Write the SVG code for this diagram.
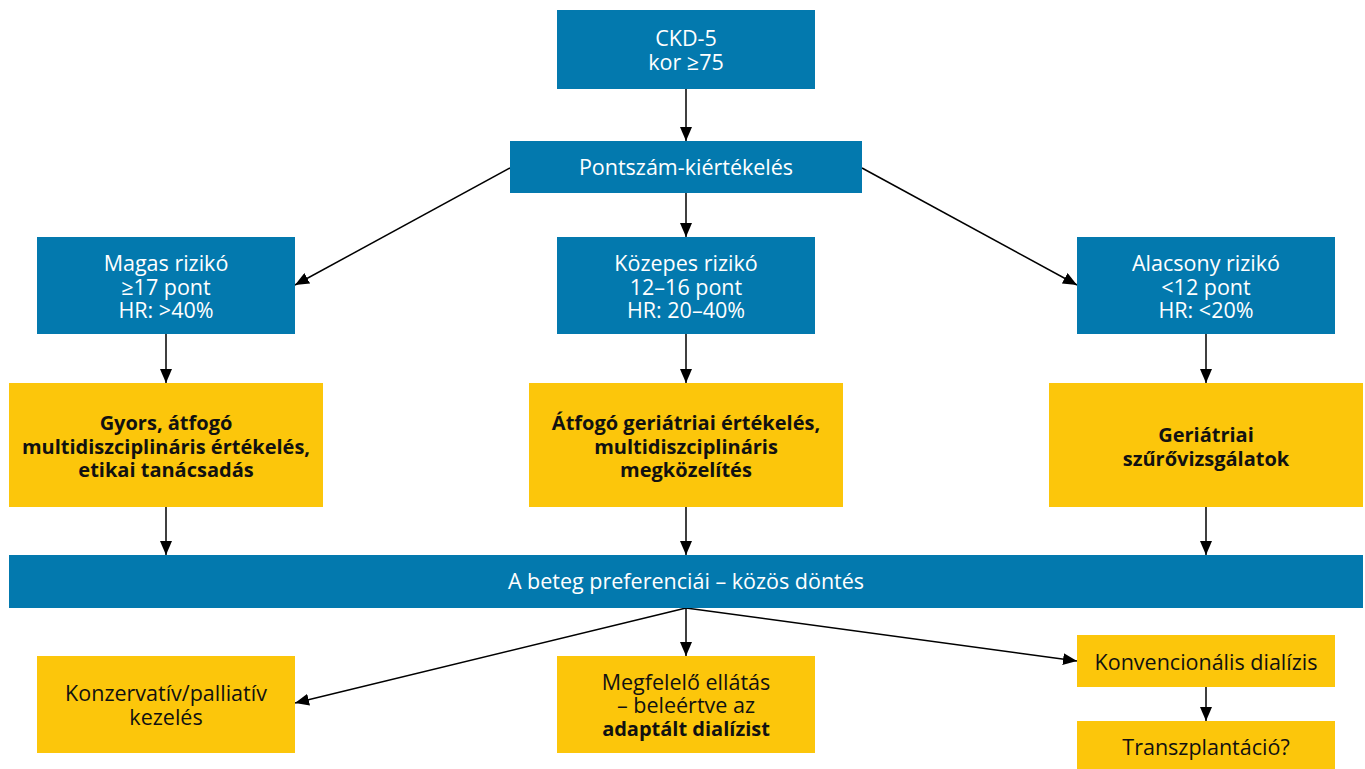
<svg xmlns="http://www.w3.org/2000/svg" width="1365" height="769" viewBox="0 0 1365 769">
<defs>
<style>
.b{fill:#0379AE}
.y{fill:#FCC60B}
text{font-family:"Open Sans","Noto Sans",sans-serif;font-size:21.5px;text-anchor:middle;dominant-baseline:central}
.w{fill:#ffffff}
.k{fill:#111111}
.bold{font-weight:bold;font-size:20px}
.c{stroke:#000;stroke-width:1.5;fill:none;marker-end:url(#ah)}
</style>
<marker id="ah" viewBox="0 0 14 12" refX="14" refY="6" markerWidth="14" markerHeight="12" markerUnits="userSpaceOnUse" orient="auto"><path d="M0,0 L14,6 L0,12 z" fill="#000"/></marker>
</defs>
<rect width="1365" height="769" fill="#fff"/>
<g id="connectors">
<line class="c" x1="686" y1="89" x2="686" y2="141"/>
<line class="c" x1="686" y1="193" x2="686" y2="237"/>
<line class="c" x1="510" y1="168" x2="295" y2="285"/>
<line class="c" x1="862" y1="168" x2="1077" y2="285"/>
<line class="c" x1="166" y1="334" x2="166" y2="383"/>
<line class="c" x1="686" y1="334" x2="686" y2="383"/>
<line class="c" x1="1206" y1="334" x2="1206" y2="383"/>
<line class="c" x1="166" y1="507" x2="166" y2="555"/>
<line class="c" x1="686" y1="507" x2="686" y2="555"/>
<line class="c" x1="1206" y1="507" x2="1206" y2="555"/>
<line class="c" x1="686" y1="608" x2="295" y2="703"/>
<line class="c" x1="686" y1="608" x2="686" y2="656"/>
<line class="c" x1="686" y1="608" x2="1077" y2="661"/>
<line class="c" x1="1206" y1="687" x2="1206" y2="721"/>
</g>
<g id="ckd"><rect class="b" x="557" y="10" width="258" height="79"/><text class="w" x="686" y="37">CKD-5</text><text class="w" x="686" y="61">kor ≥75</text></g>
<g id="pontszam"><rect class="b" x="510" y="141" width="352" height="52"/><text class="w" x="686" y="166">Pontszám-kiértékelés</text></g>
<g id="magas"><rect class="b" x="37" y="237" width="258" height="97"/><text class="w" x="166" y="262">Magas rizikó</text><text class="w" x="166" y="286">≥17 pont</text><text class="w" x="166" y="309">HR: &gt;40%</text></g>
<g id="kozepes"><rect class="b" x="557" y="237" width="258" height="97"/><text class="w" x="686" y="262">Közepes rizikó</text><text class="w" x="686" y="286">12–16 pont</text><text class="w" x="686" y="309">HR: 20–40%</text></g>
<g id="alacsony"><rect class="b" x="1077" y="237" width="258" height="97"/><text class="w" x="1206" y="262">Alacsony rizikó</text><text class="w" x="1206" y="286">&lt;12 pont</text><text class="w" x="1206" y="309">HR: &lt;20%</text></g>
<g id="gyors"><rect class="y" x="9" y="383" width="314" height="124"/><text class="k bold" x="166" y="422">Gyors, átfogó</text><text class="k bold" x="166" y="446">multidiszciplináris értékelés,</text><text class="k bold" x="166" y="469">etikai tanácsadás</text></g>
<g id="atfogo"><rect class="y" x="529" y="383" width="314" height="124"/><text class="k bold" x="686" y="422">Átfogó geriátriai értékelés,</text><text class="k bold" x="686" y="446">multidiszciplináris</text><text class="k bold" x="686" y="469">megközelítés</text></g>
<g id="geriatriai"><rect class="y" x="1049" y="383" width="314" height="124"/><text class="k bold" x="1206" y="434">Geriátriai</text><text class="k bold" x="1206" y="458">szűrővizsgálatok</text></g>
<g id="preferencia"><rect class="b" x="9" y="555" width="1354" height="53"/><text class="w" x="686" y="580">A beteg preferenciái – közös döntés</text></g>
<g id="konzervativ"><rect class="y" x="37" y="656" width="258" height="97"/><text class="k" x="166" y="692">Konzervatív/palliatív</text><text class="k" x="166" y="716">kezelés</text></g>
<g id="megfelelo"><rect class="y" x="557" y="656" width="258" height="97"/><text class="k" x="686" y="681">Megfelelő ellátás</text><text class="k" x="686" y="704">– beleértve az</text><text class="k bold" x="686" y="728">adaptált dialízist</text></g>
<g id="konvencionalis"><rect class="y" x="1077" y="635" width="258" height="52"/><text class="k" x="1206" y="661">Konvencionális dialízis</text></g>
<g id="transzplantacio"><rect class="y" x="1077" y="721" width="258" height="48"/><text class="k" x="1206" y="746">Transzplantáció?</text></g>
</svg>
